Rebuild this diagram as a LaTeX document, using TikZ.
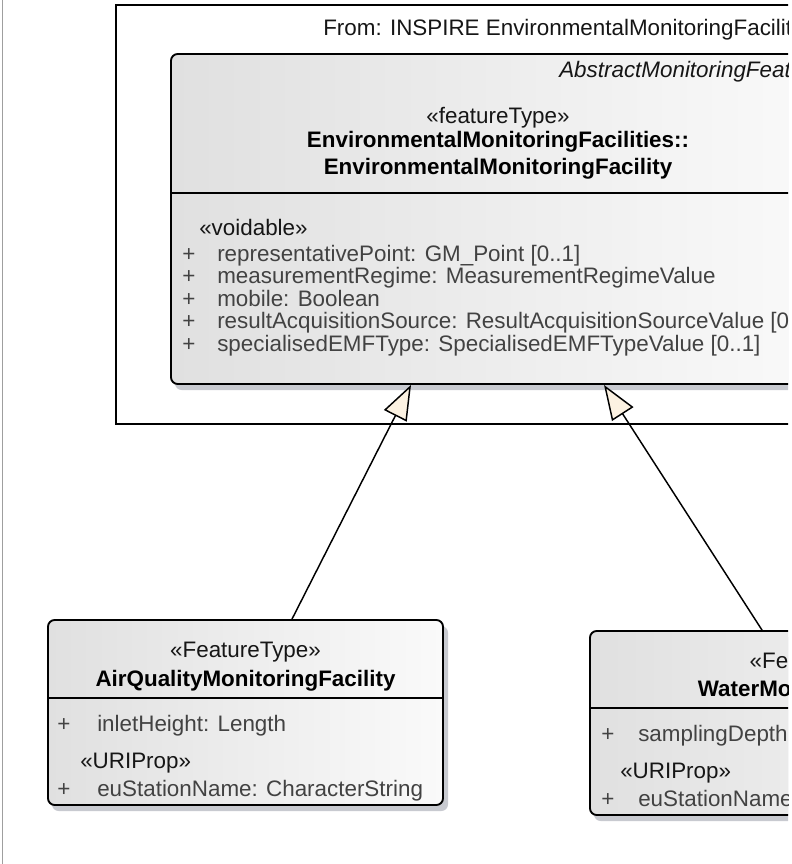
\documentclass[tikz,border=0pt]{standalone}
\usepackage{fontspec}
\setmainfont{Liberation Sans}
\usetikzlibrary{arrows.meta,calc,fit}
\definecolor{arrowfill}{RGB}{252,242,226}
\definecolor{boxL}{RGB}{224,224,224}
\definecolor{boxR}{RGB}{250,250,250}
\definecolor{shadowc}{RGB}{200,202,208}
\definecolor{attrc}{RGB}{66,66,66}
\definecolor{txtc}{RGB}{22,22,22}
\newcommand\dfont{\fontsize{16.8}{19.5}\selectfont}
\begin{document}
\begin{tikzpicture}[x=0.75pt,y=-0.75pt,
  txt/.style={anchor=base west, inner sep=0pt, text=txtc, font=\dfont},
  ctxt/.style={anchor=base, inner sep=0pt, text=txtc, font=\dfont},
  btxt/.style={anchor=base, inner sep=0pt, text=black, font=\dfont\bfseries},
  attr/.style={anchor=base west, inner sep=0pt, text=attrc, font=\dfont},
  classbox/.style={draw=black, line width=1.4pt, rounded corners=5pt, left color=boxL, right color=boxR, inner sep=0pt},
  pkgbox/.style={draw=black, line width=1.4pt, inner sep=0pt},
  divider/.style={draw=black, line width=1.4pt},
  gen/.style={draw=black, line width=1.1pt, -{Triangle[length=26pt, width=19pt, fill=arrowfill]}}
]
\useasboundingbox (0,0) rectangle (792,864);
\clip (0,0) rectangle (788,864);
\fill[white] (0,0) rectangle (792,864);
% left border line
\draw[gray!75, line width=0.9pt] (2.5,0) -- (2.5,864);

% package frame
\coordinate (pkgNW) at (116,5);
\coordinate (pkgSE) at (900,424);
\node[pkgbox, fit=(pkgNW)(pkgSE)] (pkg) {};
\node[txt] (pkgtitle) at (323,35) {From: INSPIRE EnvironmentalMonitoringFacilities};

% main class
\coordinate (mainNW) at (171,54);
\coordinate (mainSE) at (825,384);
\fill[shadowc, rounded corners=5pt] (175,60) rectangle (830,390);
\node[classbox, fit=(mainNW)(mainSE)] (main) {};
\coordinate (mdiv) at (0,193);
\draw[divider] (main.west |- mdiv) -- (main.east |- mdiv);
\node[txt, font=\dfont\itshape] (mabs) at (559,77) {AbstractMonitoringFeature};
\node[ctxt] (mster) at (498,123) {«featureType»};
\node[btxt] (mname1) at (498,147) {EnvironmentalMonitoringFacilities::};
\node[btxt] (mname2) at (498,174) {EnvironmentalMonitoringFacility};
\node[txt] (mvoid) at (199,235) {«voidable»};
\node[attr] (mp1) at (182,261) {+};
\node[attr] (ma1) at (217,261) {representativePoint: GM\_Point [0..1]};
\node[attr] (mp2) at (182,283.5) {+};
\node[attr] (ma2) at (217,283.5) {measurementRegime: MeasurementRegimeValue};
\node[attr] (mp3) at (182,306) {+};
\node[attr] (ma3) at (217,306) {mobile: Boolean};
\node[attr] (mp4) at (182,328.5) {+};
\node[attr] (ma4) at (217,328.5) {resultAcquisitionSource: ResultAcquisitionSourceValue [0..1]};
\node[attr] (mp5) at (182,351) {+};
\node[attr] (ma5) at (217,351) {specialisedEMFType: SpecialisedEMFTypeValue [0..1]};

% AirQuality class
\coordinate (aqNW) at (48,620);
\coordinate (aqSE) at (443,805);
\fill[shadowc, rounded corners=5pt] (52,626) rectangle (448,811);
\node[classbox, fit=(aqNW)(aqSE)] (aq) {};
\coordinate (aqdiv) at (0,698);
\draw[divider] (aq.west |- aqdiv) -- (aq.east |- aqdiv);
\node[ctxt] (aqster) at (245.5,657) {«FeatureType»};
\node[btxt] (aqname) at (245.5,686) {AirQualityMonitoringFacility};
\node[attr] (aqp1) at (57,731) {+};
\node[attr] (aqa1) at (97,731) {inletHeight: Length};
\node[txt] (aquri) at (80,768) {«URIProp»};
\node[attr] (aqp2) at (57,796) {+};
\node[attr] (aqa2) at (97,796) {euStationName: CharacterString};

% Water class
\coordinate (wNW) at (590,631);
\coordinate (wSE) at (1060,815);
\fill[shadowc, rounded corners=5pt] (594,637) rectangle (1065,821);
\node[classbox, fit=(wNW)(wSE)] (water) {};
\coordinate (wdiv) at (0,708);
\draw[divider] (water.west |- wdiv) -- (water.east |- wdiv);
\node[ctxt] (wster) at (825,668) {«FeatureType»};
\node[btxt] (wname) at (825,696) {WaterMonitoringFacility};
\node[attr] (wp1) at (601,741) {+};
\node[attr] (wa1) at (638,741) {samplingDepth: Length};
\node[txt] (wuri) at (620,778) {«URIProp»};
\node[attr] (wp2) at (601,806) {+};
\node[attr] (wa2) at (638,806) {euStationName: CharacterString};

% generalizations
\draw[gen] ($(aq.north)+(46.5,0)$) -- ($(main.south)+(-87,0)$);
\draw[gen] ($(water.north)+(-63,0)$) -- ($(main.south)+(106,0)$);
\end{tikzpicture}
\end{document}
